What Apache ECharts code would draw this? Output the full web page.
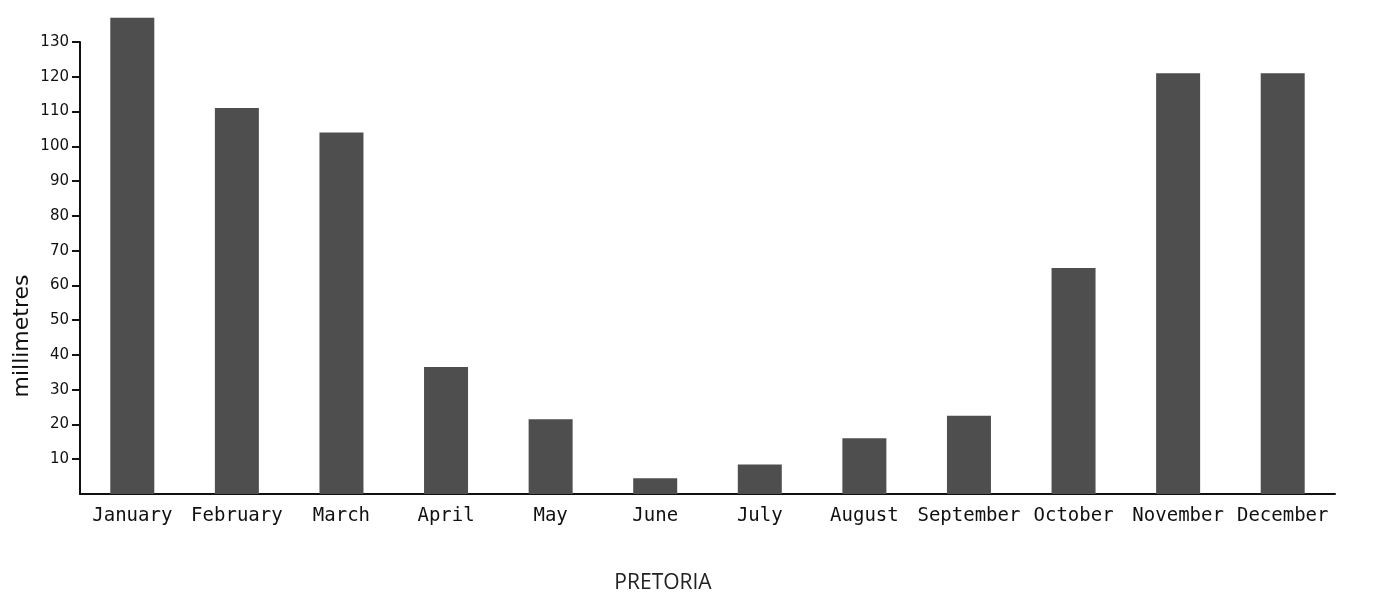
<!DOCTYPE html>
<html>
<head>
<meta charset="utf-8">
<script src="https://cdn.jsdelivr.net/npm/echarts@6/dist/echarts.min.js"></script>
<style>
html,body{margin:0;padding:0;background:#fff;}
#c{width:1391px;height:594px;}
</style>
</head>
<body>
<div id="c"></div>
<script>
const months = ['January','February','March','April','May','June','July','August','September','October','November','December'];
const rainfall = [137, 111, 104, 36.5, 21.5, 4.5, 8.5, 16, 22.5, 65, 121, 121];
const yTicks = [10,20,30,40,50,60,70,80,90,100,110,120,130];

const chart = echarts.init(document.getElementById('c'));
chart.setOption({
  backgroundColor: '#ffffff',
  animation: false,
  title: {
    text: 'PRETORIA',
    left: 658, top: 568, textAlign: 'center',
    textStyle: {fontFamily: 'Open Sans', fontSize: 21, fontWeight: 'normal', color: '#222'}
  },
  graphic: [{
    type: 'text', x: 22, y: 336, rotation: Math.PI/2,
    style: {text: 'millimetres', fontFamily: 'DejaVu Sans', fontSize: 22, fill: '#111', align: 'center', verticalAlign: 'middle'}
  }],
  grid: {left: 80, right: 56, top: 42, bottom: 100},
  xAxis: {
    type: 'category', data: months,
    axisLine: {lineStyle: {color: '#111', width: 2}},
    axisTick: {show: false},
    axisLabel: {fontFamily: 'DejaVu Sans Mono', fontSize: 19, color: '#111', margin: 13, interval: 0}
  },
  yAxis: {
    type: 'value', min: 0, max: 130, interval: 10,
    splitLine: {show: false},
    axisLine: {show: true, lineStyle: {color: '#111', width: 2}},
    axisTick: {show: true, length: 8, customValues: yTicks, lineStyle: {color: '#111', width: 2}},
    axisLabel: {
      fontFamily: 'DejaVu Sans', fontSize: 15, color: '#111', margin: 11,
      customValues: yTicks
    }
  },
  series: [{
    type: 'bar', data: rainfall, barWidth: 44, clip: false,
    itemStyle: {color: '#4e4e4e'}
  }]
});
</script>
</body>
</html>
